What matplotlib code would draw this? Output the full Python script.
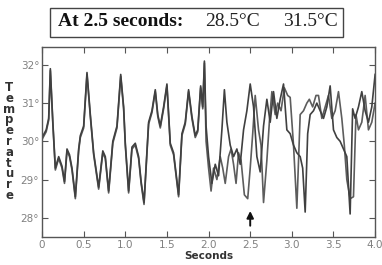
import matplotlib
matplotlib.use("Agg")
import matplotlib.pyplot as plt
from matplotlib.patches import Rectangle

# two temperature traces (seconds, degrees C)
t_a = [0.00, 0.05, 0.08, 0.10, 0.13, 0.16, 0.20, 0.24, 0.27, 0.30, 0.33, 0.36,
       0.40, 0.44, 0.46, 0.50, 0.54, 0.58, 0.62, 0.68, 0.73, 0.76, 0.80, 0.85,
       0.90, 0.945, 0.98, 1.00, 1.04, 1.08, 1.12, 1.16, 1.19, 1.225, 1.28, 1.32,
       1.36, 1.39, 1.42, 1.46, 1.50, 1.54, 1.58, 1.64, 1.68, 1.72, 1.76, 1.80,
       1.84, 1.87, 1.905, 1.93, 1.95, 1.97, 2.00, 2.04, 2.08, 2.12, 2.16, 2.19,
       2.22, 2.26, 2.30, 2.34, 2.38, 2.42, 2.46, 2.50, 2.54, 2.58, 2.62, 2.66,
       2.70, 2.74, 2.78, 2.82, 2.86, 2.90, 2.94, 2.98, 3.02, 3.06, 3.10, 3.13,
       3.16, 3.19, 3.22, 3.26, 3.30, 3.34, 3.38, 3.42, 3.46, 3.50, 3.54, 3.58,
       3.62, 3.66, 3.70, 3.73, 3.76, 3.80, 3.84, 3.88, 3.92, 3.96, 4.00]
v_a = [30.1, 30.3, 30.6, 31.9, 30.5, 29.3, 29.6, 29.35, 28.95, 29.8, 29.65, 29.3,
       28.55, 29.8, 30.15, 30.4, 31.8, 30.7, 29.7, 28.8, 29.75, 29.6, 28.7, 30.0,
       30.4, 31.75, 30.9, 29.95, 28.7, 29.85, 29.95, 29.6, 28.95, 28.4, 30.5, 30.8,
       31.35, 30.7, 30.4, 30.9, 31.5, 29.95, 29.7, 28.6, 30.2, 30.5, 31.35, 30.65,
       30.15, 30.3, 31.45, 30.9, 32.1, 30.4, 29.6, 28.9, 29.4, 29.1, 30.3, 31.35,
       30.5, 29.9, 29.6, 29.8, 29.4, 30.3, 30.8, 31.5, 30.9, 29.6, 29.2, 30.4,
       31.1, 30.5, 31.3, 30.6, 31.1, 31.5, 30.3, 30.2, 29.9, 29.7, 29.6, 29.3,
       28.15, 30.2, 30.7, 30.8, 31.0, 30.8, 30.6, 30.9, 31.45, 30.3, 30.1, 30.0,
       29.8, 29.6, 28.1, 30.85, 30.6, 30.9, 31.3, 30.8, 30.5, 30.9, 31.75]

t_b = [0.00, 0.05, 0.08, 0.10, 0.13, 0.16, 0.20, 0.24, 0.27, 0.30, 0.33, 0.36,
       0.40, 0.44, 0.46, 0.50, 0.54, 0.58, 0.62, 0.68, 0.73, 0.76, 0.80, 0.85,
       0.90, 0.945, 0.98, 1.00, 1.04, 1.08, 1.12, 1.16, 1.19, 1.225, 1.28, 1.32,
       1.36, 1.39, 1.42, 1.46, 1.50, 1.54, 1.58, 1.64, 1.68, 1.72, 1.76, 1.80,
       1.84, 1.87, 1.905, 1.93, 1.95, 1.97, 2.00, 2.03, 2.06, 2.10, 2.14, 2.17,
       2.20, 2.24, 2.27, 2.30, 2.33, 2.36, 2.39, 2.43, 2.47, 2.50, 2.53, 2.56,
       2.60, 2.63, 2.66, 2.70, 2.73, 2.76, 2.80, 2.83, 2.87, 2.91, 2.95, 2.98,
       3.02, 3.06, 3.10, 3.14, 3.18, 3.21, 3.25, 3.29, 3.32, 3.36, 3.40, 3.44,
       3.48, 3.52, 3.56, 3.60, 3.63, 3.66, 3.70, 3.74, 3.77, 3.80, 3.84, 3.88,
       3.92, 3.96, 4.00]
v_b = [30.05, 30.25, 30.55, 31.85, 30.45, 29.25, 29.55, 29.3, 28.9, 29.75, 29.6, 29.25,
       28.5, 29.75, 30.1, 30.35, 31.75, 30.65, 29.65, 28.75, 29.7, 29.55, 28.65, 29.95,
       30.35, 31.7, 30.85, 29.9, 28.65, 29.8, 29.9, 29.55, 28.9, 28.35, 30.45, 30.75,
       31.3, 30.65, 30.35, 30.85, 31.45, 29.9, 29.65, 28.55, 30.15, 30.45, 31.3, 30.6,
       30.1, 30.25, 31.4, 30.85, 32.05, 30.0, 29.3, 28.7, 29.3, 29.0, 29.6, 29.3,
       28.9, 29.6, 29.8, 29.4, 28.9, 29.7, 29.5, 28.6, 28.5, 29.3, 30.2, 31.2,
       30.3, 29.9, 28.4, 29.5, 30.5, 31.3, 30.7, 31.0, 30.8, 31.4, 31.2, 31.15,
       29.9, 28.25, 30.7, 30.8, 31.0, 31.1, 30.9, 31.2, 31.2, 30.6, 30.9, 31.2,
       30.6, 30.8, 31.3, 30.6, 29.9, 29.0, 28.5, 28.55, 30.7, 30.3, 30.5, 31.2,
       30.3, 30.5, 31.0]

x_ticks = [0, 0.5, 1.0, 1.5, 2.0, 2.5, 3.0, 3.5, 4.0]
x_labels = ["0", "0.5", "1.0", "1.5", "2.0", "2.5", "3.0", "3.5", "4.0"]
y_ticks = [28, 29, 30, 31, 32]
y_labels = ["28°", "29°", "30°", "31°", "32°"]
y_name = "Temperature"

line_col = "#404040"
tick_col = "#808080"

fig = plt.figure(figsize=(3.82, 2.65), dpi=100)
ax = fig.add_axes([0.110, 0.106, 0.872, 0.717])

ax.plot(t_b, v_b, color=line_col, lw=1.2, alpha=0.85)
ax.plot(t_a, v_a, color=line_col, lw=1.2)

ax.set_xlim(0, 4.0)
ax.set_ylim(27.5, 32.47)
ax.set_xticks(x_ticks)
ax.set_xticklabels(x_labels)
ax.set_yticks(y_ticks)
ax.set_yticklabels(y_labels)
ax.tick_params(direction="in", length=4, width=0.8, top=True, right=True,
               labelsize=7.5, labelcolor=tick_col, color="#555555", pad=2)
for s in ax.spines.values():
    s.set_color("#555555")
    s.set_linewidth(1.0)

ax.set_xlabel("Seconds", fontsize=7.5, fontweight="bold", color="#333333", labelpad=1)

# y name as stacked upright letters, one text object
fig.text(0.024, 0.466, "\n".join(y_name), fontsize=8.5, fontweight="bold",
         color="#333333", ha="center", va="center", linespacing=0.78,
         multialignment="center")

# arrow marking 2.5 s
ax.annotate("", xy=(2.5, 28.25), xytext=(2.5, 27.72),
            arrowprops=dict(arrowstyle="-|>", color="#111111", lw=1.4,
                            mutation_scale=10))

# header box
fig.patches.append(Rectangle((50 / 382, 1 - 37 / 265), 293 / 382, 29 / 265,
                             transform=fig.transFigure, fill=False,
                             edgecolor="#444444", lw=1.0))
fig.text(58 / 382, 1 - 22 / 265, "At 2.5 seconds:", fontsize=14,
         fontweight="bold", family="Liberation Serif", color="#111111",
         ha="left", va="center")
fig.text(205 / 382, 1 - 22 / 265, "28.5°C", fontsize=14,
         family="Liberation Serif", color="#222222", ha="left", va="center")
fig.text(283 / 382, 1 - 22 / 265, "31.5°C", fontsize=14,
         family="Liberation Serif", color="#222222", ha="left", va="center")

fig.savefig("out.png", dpi=100)
